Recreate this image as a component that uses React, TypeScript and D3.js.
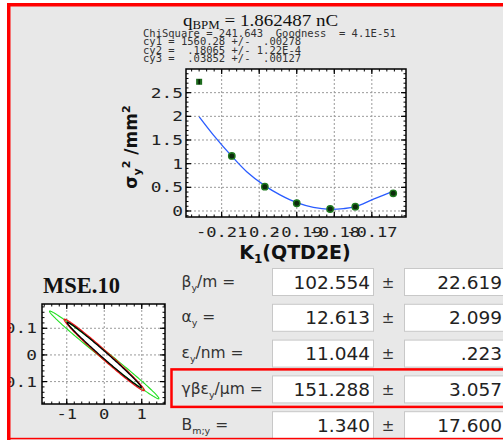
import React from 'react';
import * as d3 from 'd3';

// ---------- data ----------
const kValues = [-0.216, -0.2073, -0.1985, -0.19, -0.1811, -0.1744, -0.1643];
const sigmaSq = [2.73, 1.163, 0.514, 0.163, 0.042, 0.091, 0.374];
const excluded = [true, false, false, false, false, false, false];

const fitK = [-0.21597, -0.21224, -0.20733, -0.20333, -0.19845, -0.19445, -0.19, -0.18557, -0.18112, -0.17757, -0.17445, -0.16957, -0.16424];
const fitSigmaSq = [1.99, 1.61, 1.16, 0.83, 0.53, 0.34, 0.176, 0.078, 0.036, 0.05, 0.09, 0.25, 0.42];

const xTicks = [-0.21, -0.2, -0.19, -0.18, -0.17];
const xTickLabels = ['-0.21', '-0.2', '-0.19', '-0.18', '-0.17'];
const yTicks = [0, 0.5, 1, 1.5, 2, 2.5];
const yTickLabels = ['0', '0.5', '1', '1.5', '2', '2.5'];

const statsLines = [
  'ChiSquare = 241.643  Goodness  = 4.1E-51',
  'cy1 = 1560.28 +/-  .00278',
  'cy2 =  .18065 +/- 1.22E-4',
  'cy3 =  .03852 +/-  .00127',
];

const paramNames = ['β', 'α', 'ε', 'γβε', 'B'];
const paramSubs = ['y', 'y', 'y', 'y', 'm;y'];
const paramUnits = ['/m =', ' =', '/nm =', '/μm =', ' ='];
const paramValues = ['102.554', '12.613', '11.044', '151.288', '1.340'];
const paramErrors = ['22.619', '2.099', '.223', '3.057', '17.600'];
const highlightRow = 3;

// phase-space ellipses (mini plot): max x amplitude, slope, half-width in y
const ellipseColors = ['#22e022', '#ee1111', '#000000'];
const ellipseAmp = [1.46, 1.07, 0.99];
const ellipseSlope = [-0.112, -0.124, -0.123];
const ellipseHalf = [0.019, 0.02, 0.015];
const ellipseWidth = [1.1, 1.2, 1.3];
const miniXTicks = [-1, 0, 1];
const miniXLabels = ['-1', '0', '1'];
const miniYTicks = [-0.1, 0, 0.1];
const miniYLabels = ['-0.1', '0', '0.1'];

// ---------- helpers ----------
const MONO = 'DejaVu Sans Mono, monospace';
const SANS = 'DejaVu Sans, sans-serif';
const SERIF = 'Liberation Serif, serif';

function SText({ x, y, sx = 1, anchor = 'start', children, ...rest }: any) {
  return (
    <g transform={`translate(${x},${y}) scale(${sx},1)`}>
      <text x={0} y={0} textAnchor={anchor} {...rest}>
        {children}
      </text>
    </g>
  );
}

function Frame({ x, y, xTicksMajor, xTicksMinor, yTicksMajor, yTicksMinor }: any) {
  const [x0, x1] = x.range();
  const [y0, y1] = y.range();
  const top = Math.min(y0, y1), bot = Math.max(y0, y1);
  const els: any[] = [];
  const M = 5, m = 2.5;
  xTicksMinor.forEach((t: number, i: number) => {
    const px = x(t);
    els.push(<line key={'xm' + i} x1={px} x2={px} y1={bot} y2={bot - m} stroke="#000" strokeWidth={1} />);
    els.push(<line key={'xmt' + i} x1={px} x2={px} y1={top} y2={top + m} stroke="#000" strokeWidth={1} />);
  });
  xTicksMajor.forEach((t: number, i: number) => {
    const px = x(t);
    els.push(<line key={'xM' + i} x1={px} x2={px} y1={bot} y2={bot - M} stroke="#000" strokeWidth={1.2} />);
    els.push(<line key={'xMt' + i} x1={px} x2={px} y1={top} y2={top + M} stroke="#000" strokeWidth={1.2} />);
  });
  yTicksMinor.forEach((t: number, i: number) => {
    const py = y(t);
    els.push(<line key={'ym' + i} x1={x0} x2={x0 + m} y1={py} y2={py} stroke="#000" strokeWidth={1} />);
    els.push(<line key={'ymr' + i} x1={x1} x2={x1 - m} y1={py} y2={py} stroke="#000" strokeWidth={1} />);
  });
  yTicksMajor.forEach((t: number, i: number) => {
    const py = y(t);
    els.push(<line key={'yM' + i} x1={x0} x2={x0 + M} y1={py} y2={py} stroke="#000" strokeWidth={1.2} />);
    els.push(<line key={'yMr' + i} x1={x1} x2={x1 - M} y1={py} y2={py} stroke="#000" strokeWidth={1.2} />);
  });
  return (
    <g>
      {els}
      <rect x={x0} y={top} width={x1 - x0} height={bot - top} fill="none" stroke="#000" strokeWidth={1.5} />
    </g>
  );
}

function Grid({ x, y, xT, yT }: any) {
  const [x0, x1] = x.range();
  const [y0, y1] = y.range();
  return (
    <g stroke="#9a9a9a" strokeWidth={1} strokeDasharray="2,2">
      {xT.map((t: number, i: number) => (
        <line key={'gx' + i} x1={x(t)} x2={x(t)} y1={y0} y2={y1} />
      ))}
      {yT.map((t: number, i: number) => (
        <line key={'gy' + i} x1={x0} x2={x1} y1={y(t)} y2={y(t)} />
      ))}
    </g>
  );
}

export default function App() {
  // main plot scales
  const x = d3.scaleLinear().domain([-0.2195, -0.1609]).range([186, 406]);
  const y = d3.scaleLinear().domain([-0.127, 3.0]).range([217, 69]);
  const xMinor = d3.range(-0.218, -0.1609, 0.002);
  const yMinor = d3.range(-0.1, 3.0, 0.1);

  const line = d3
    .line<number>()
    .x((_, i) => x(fitK[i]))
    .y((d) => y(d))
    .curve(d3.curveCatmullRom);

  // mini plot scales
  const mx = d3.scaleLinear().domain([-1.66, 1.62]).range([42, 165]);
  const my = d3.scaleLinear().domain([-0.184, 0.191]).range([404, 304]);
  const mxMinor = d3.range(-1.6, 1.62, 0.2);
  const myMinor = d3.range(-0.18, 0.19, 0.02);

  const ts = d3.range(0, 2 * Math.PI + 0.001, Math.PI / 90);
  const ellipsePaths = ellipseAmp.map((A, k) => {
    const pts = ts.map((t) => [A * Math.cos(t), ellipseSlope[k] * A * Math.cos(t) + ellipseHalf[k] * Math.sin(t)] as [number, number]);
    return d3
      .line<[number, number]>()
      .x((p) => mx(p[0]))
      .y((p) => my(p[1]))(pts);
  });

  const rowTop0 = 268.5;
  const rowStep = 35.8;
  const boxH = 27;

  return (
    <svg width={503} height={440} style={{ position: 'absolute', left: 0, top: 0 }} xmlns="http://www.w3.org/2000/svg">
      <defs>
        <clipPath id="panelClip">
          <rect x={10} y={6} width={493} height={432} />
        </clipPath>
      </defs>
      <rect x={0} y={0} width={503} height={440} fill="#ffffff" />
      <rect x={7} y={3} width={496} height={437} fill="#e8e8e8" />
      <g clipPath="url(#panelClip)">
        {/* Title */}
        <SText x={183} y={26} sx={1.12} fontFamily={SERIF} fontSize={17} fill="#111">
          q<tspan fontSize={11.5} dy={3}>BPM</tspan>
          <tspan dy={-3}> = 1.862487 nC</tspan>
        </SText>
        {/* Stats */}
        {statsLines.map((s, i) => (
          <text key={'st' + i} x={143} y={37 + i * 8.3} fontFamily={MONO} fontSize={10.5} fill="#333" style={{ whiteSpace: 'pre' }}>
            {s}
          </text>
        ))}

        {/* Main plot */}
        <rect x={186} y={69} width={220} height={148} fill="#fff" />
        <Grid x={x} y={y} xT={xTicks} yT={yTicks} />
        <path d={line(fitSigmaSq) || ''} fill="none" stroke="#2a5cff" strokeWidth={1.3} />
        {kValues.map((k, i) =>
          excluded[i] ? (
            <g key={'p' + i}>
              <rect x={x(k) - 3} y={y(sigmaSq[i]) - 3} width={6} height={6} fill="#1d6b1d" />
              <line x1={x(k)} x2={x(k)} y1={y(sigmaSq[i]) - 2.5} y2={y(sigmaSq[i]) + 2.5} stroke="#000" strokeWidth={1.2} />
            </g>
          ) : (
            <circle key={'p' + i} cx={x(k)} cy={y(sigmaSq[i])} r={3.2} fill="#0d2a0d" stroke="#1f7a1f" strokeWidth={1.4} />
          )
        )}
        <Frame x={x} y={y} xTicksMajor={xTicks} xTicksMinor={xMinor} yTicksMajor={yTicks} yTicksMinor={yMinor} />
        {xTicks.map((t, i) => (
          <SText key={'xl' + i} x={x(t)} y={236.5} sx={1.25} anchor="middle" fontFamily={MONO} fontSize={13.7} fill="#222">
            {xTickLabels[i]}
          </SText>
        ))}
        {yTicks.map((t, i) => (
          <SText key={'yl' + i} x={183} y={y(t) + 5} sx={1.3} anchor="end" fontFamily={MONO} fontSize={13.7} fill="#222">
            {yTickLabels[i]}
          </SText>
        ))}
        {/* axis titles */}
        <text x={295} y={259} textAnchor="middle" fontFamily={SANS} fontWeight="bold" fontSize={19} fill="#111">
          K<tspan fontSize={12} dy={4}>1</tspan>
          <tspan dy={-4}>(QTD2E)</tspan>
        </text>
        <g transform="translate(137,147) rotate(-90)">
          <text x={0} y={0} textAnchor="middle" fontFamily={SANS} fontWeight="bold" fontSize={17} fill="#111">
            σ<tspan fontSize={11} dy={4}>y</tspan>
            <tspan fontSize={11} dy={-11}>2</tspan>
            <tspan fontSize={17} dy={7}> /mm</tspan>
            <tspan fontSize={11} dy={-7}>2</tspan>
          </text>
        </g>

        {/* Mini plot */}
        <text x={43} y={292.5} fontFamily={SERIF} fontWeight="bold" fontSize={22.5} fill="#111">
          MSE.10
        </text>
        <rect x={42} y={304} width={123} height={100} fill="#fff" />
        <Grid x={mx} y={my} xT={miniXTicks} yT={miniYTicks} />
        {ellipsePaths.map((d, k) => (
          <path key={'el' + k} d={d || ''} fill="none" stroke={ellipseColors[k]} strokeWidth={ellipseWidth[k]} />
        ))}
        <Frame x={mx} y={my} xTicksMajor={miniXTicks} xTicksMinor={mxMinor} yTicksMajor={miniYTicks} yTicksMinor={myMinor} />
        {miniXTicks.map((t, i) => (
          <SText key={'mxl' + i} x={mx(t)} y={419} sx={1.25} anchor="middle" fontFamily={MONO} fontSize={13.7} fill="#222">
            {miniXLabels[i]}
          </SText>
        ))}
        {miniYTicks.map((t, i) => (
          <SText key={'myl' + i} x={37} y={my(t) + 5} sx={1.3} anchor="end" fontFamily={MONO} fontSize={13.7} fill="#222">
            {miniYLabels[i]}
          </SText>
        ))}

        {/* Parameter table */}
        {paramValues.map((v, i) => {
          const top = rowTop0 + i * rowStep;
          return (
            <g key={'row' + i}>
              <text x={181.5} y={top + 18} fontFamily={SANS} fontSize={15.5} fill="#333">
                {paramNames[i]}
                <tspan fontSize={9.5} dy={4}>{paramSubs[i]}</tspan>
                <tspan dy={-4} style={{ whiteSpace: 'pre' }}>{paramUnits[i]}</tspan>
              </text>
              <rect x={272.5} y={top} width={101} height={boxH} fill="#fff" stroke="#c8c8c8" strokeWidth={1} />
              <text x={370} y={top + 20} textAnchor="end" fontFamily={SANS} fontSize={18.5} fill="#222">
                {v}
              </text>
              <text x={388} y={top + 19} textAnchor="middle" fontFamily={SANS} fontSize={15} fill="#333">
                ±
              </text>
              <rect x={404.5} y={top} width={101} height={boxH} fill="#fff" stroke="#c8c8c8" strokeWidth={1} />
              <text x={502} y={top + 20} textAnchor="end" fontFamily={SANS} fontSize={18.5} fill="#222">
                {paramErrors[i]}
              </text>
            </g>
          );
        })}
        <rect
          x={171.5}
          y={rowTop0 + highlightRow * rowStep - 6.5}
          width={340}
          height={37.5}
          fill="none"
          stroke="#ff0000"
          strokeWidth={2.5}
        />
      </g>
      {/* outer red border */}
      <rect x={7} y={3} width={3.5} height={437} fill="#ff0000" />
      <rect x={7} y={3} width={496} height={3.5} fill="#ff0000" />
      <rect x={7} y={437.8} width={496} height={1.5} fill="#ff0000" />
    </svg>
  );
}
